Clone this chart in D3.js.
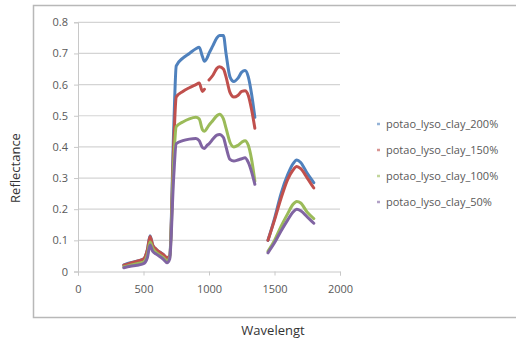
<!DOCTYPE html>
<html>
<head>
<style>
  body { margin: 0; background: #fff; }
  svg text { font-family: "Open Sans", "Noto Sans", sans-serif; }
</style>
</head>
<body>
  <div id="chart"></div>
</body>
<script src="https://d3js.org/d3.v7.min.js"></script>
<script>
// wavelengths (nm); null marks a break in the curves
const wavelengths = [350, 400, 450, 500, 530, 550, 570, 600, 650, 680, 700, 730, 750, 800, 850, 900, 925, 950, 965, 985,
  1000, 1030, 1060, 1080, 1110, 1130, 1160, 1190, 1220, 1250, 1275, 1300, 1325, 1350, 1400,
  1450, 1500, 1550, 1600, 1640, 1670, 1700, 1750, 1800];

const clay200 = [0.021, 0.028, 0.033, 0.04, 0.07, 0.115, 0.085, 0.07, 0.055, 0.043, 0.05, 0.45, 0.66, 0.685, 0.70, 0.715, 0.72, 0.69, 0.675, 0.685,
  0.70, 0.725, 0.75, 0.758, 0.758, 0.70, 0.625, 0.61, 0.62, 0.64, 0.645, 0.625, 0.57, 0.495, null,
  0.10, 0.17, 0.25, 0.31, 0.345, 0.358, 0.35, 0.315, 0.285];
const clay150 = [0.02, 0.027, 0.033, 0.04, 0.07, 0.112, 0.085, 0.07, 0.055, 0.045, 0.05, 0.40, 0.56, 0.578, 0.59, 0.60, 0.605, 0.578, 0.585, null,
  0.615, 0.63, 0.652, 0.657, 0.65, 0.625, 0.575, 0.56, 0.565, 0.578, 0.58, 0.565, 0.52, 0.46, null,
  0.10, 0.165, 0.235, 0.295, 0.325, 0.337, 0.33, 0.30, 0.268];
const clay100 = [0.015, 0.02, 0.025, 0.03, 0.055, 0.095, 0.075, 0.06, 0.045, 0.035, 0.045, 0.35, 0.465, 0.48, 0.49, 0.495, 0.49, 0.455, 0.45, 0.46,
  0.47, 0.485, 0.50, 0.505, 0.49, 0.46, 0.415, 0.40, 0.405, 0.415, 0.42, 0.405, 0.36, 0.29, null,
  0.065, 0.10, 0.145, 0.185, 0.215, 0.225, 0.22, 0.19, 0.17];
const clay50 = [0.012, 0.017, 0.02, 0.025, 0.045, 0.085, 0.065, 0.055, 0.04, 0.028, 0.04, 0.30, 0.41, 0.42, 0.425, 0.427, 0.42, 0.398, 0.395, 0.405,
  0.41, 0.425, 0.438, 0.44, 0.43, 0.40, 0.36, 0.355, 0.358, 0.362, 0.365, 0.35, 0.32, 0.28, null,
  0.06, 0.092, 0.13, 0.165, 0.19, 0.20, 0.195, 0.175, 0.155];

const seriesNames = ['potao_lyso_clay_200%', 'potao_lyso_clay_150%', 'potao_lyso_clay_100%', 'potao_lyso_clay_50%'];
const seriesValues = [clay200, clay150, clay100, clay50];
const seriesColors = ['#4F81BD', '#C0504D', '#9BBB59', '#8064A2'];

const xTicks = [0, 500, 1000, 1500, 2000];
const yTicks = [0, 0.1, 0.2, 0.3, 0.4, 0.5, 0.6, 0.7, 0.8];

const W = 516, H = 342;
const svg = d3.select('#chart').append('svg')
  .attr('width', W)
  .attr('height', H);

svg.append('rect').attr('width', W).attr('height', H).attr('fill', '#fff');

// outer chart box
svg.append('rect')
  .attr('x', 33.5).attr('y', 5.5)
  .attr('width', 500).attr('height', 312)
  .attr('fill', '#fff')
  .attr('stroke', '#b8b8b8')
  .attr('stroke-width', 1.5);

const x = d3.scaleLinear().domain([0, 2000]).range([78, 340]);
const y = d3.scaleLinear().domain([0, 0.8]).range([271.5, 22.3]);

// gridlines
svg.append('g')
  .selectAll('line')
  .data(yTicks.slice(1))
  .enter()
  .append('line')
  .attr('x1', x(0)).attr('x2', x(2000))
  .attr('y1', d => y(d)).attr('y2', d => y(d))
  .attr('stroke', '#d4d4d4')
  .attr('stroke-width', 1.2);

// y axis
const yAxis = svg.append('g')
  .attr('transform', `translate(${x(0)},0)`)
  .call(d3.axisLeft(y).tickValues(yTicks).tickSize(4).tickPadding(6).tickFormat(d => d === 0 ? '0' : d3.format('.1f')(d)));
yAxis.select('.domain').attr('stroke', '#c8c8c8');
yAxis.selectAll('.tick line').attr('stroke', '#c8c8c8');
yAxis.selectAll('text').attr('fill', '#595959').attr('font-size', 11);

// x axis
const xAxis = svg.append('g')
  .attr('transform', `translate(0,${y(0)})`)
  .call(d3.axisBottom(x).tickValues(xTicks).tickSize(4).tickPadding(10).tickFormat(d3.format('d')));
xAxis.select('.domain').attr('stroke', '#c8c8c8');
xAxis.selectAll('.tick line').attr('stroke', '#c8c8c8');
xAxis.selectAll('text').attr('fill', '#595959').attr('font-size', 11);

// lines
const line = d3.line()
  .defined(d => d[1] !== null)
  .x(d => x(d[0]))
  .y(d => y(d[1]))
  .curve(d3.curveMonotoneX);

seriesValues.forEach((vals, i) => {
  svg.append('path')
    .datum(wavelengths.map((w, j) => [w, vals[j]]))
    .attr('d', line)
    .attr('fill', 'none')
    .attr('stroke', seriesColors[i])
    .attr('stroke-width', 3)
    .attr('stroke-linejoin', 'round')
    .attr('stroke-linecap', 'round');
});

// legend
const legend = svg.append('g');
seriesNames.forEach((name, i) => {
  const ly = 124 + i * 26;
  legend.append('line')
    .attr('x1', 377).attr('x2', 380)
    .attr('y1', ly).attr('y2', ly)
    .attr('stroke', seriesColors[i])
    .attr('stroke-width', 2.5)
    .attr('opacity', 0.6);
  legend.append('text')
    .attr('x', 386).attr('y', ly)
    .attr('dy', '0.35em')
    .attr('font-size', 11)
    .attr('fill', '#595959')
    .text(name);
});

// axis titles
svg.append('text')
  .attr('transform', 'translate(20,168) rotate(-90)')
  .attr('text-anchor', 'middle')
  .attr('font-size', 13)
  .attr('fill', '#333')
  .text('Reflectance');

svg.append('text')
  .attr('x', 273).attr('y', 335)
  .attr('text-anchor', 'middle')
  .attr('font-size', 13)
  .attr('fill', '#333')
  .text('Wavelengt');
</script>
</html>
